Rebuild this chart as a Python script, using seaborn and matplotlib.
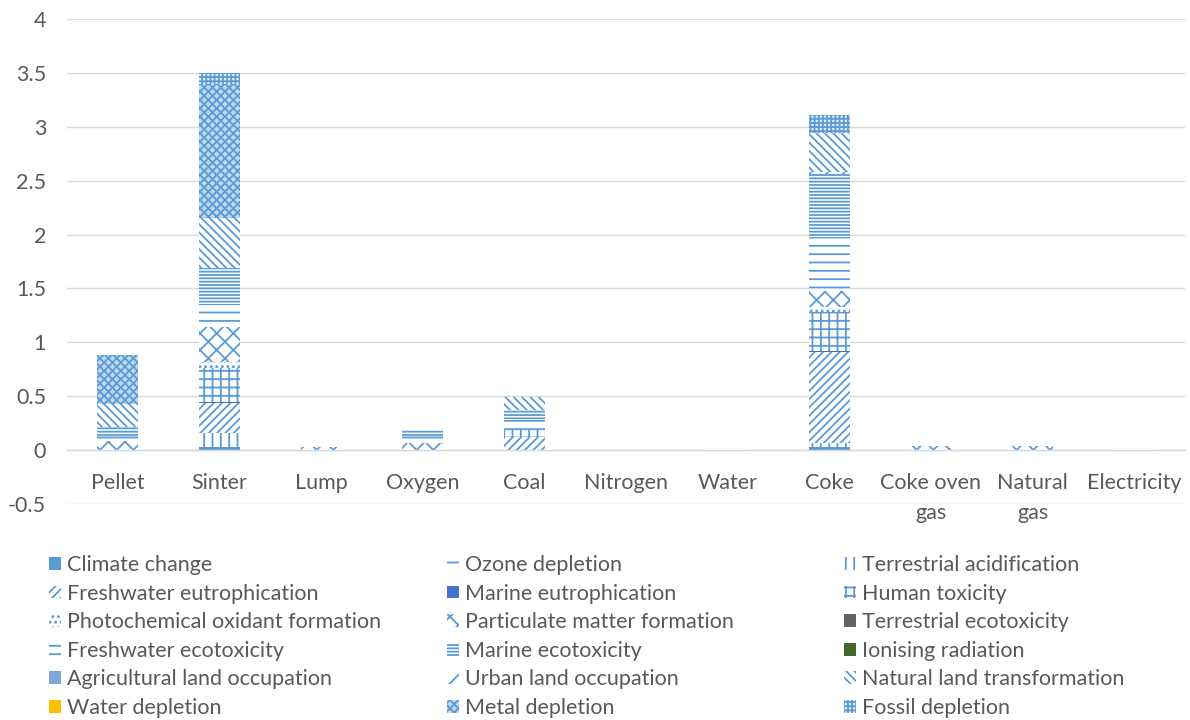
import matplotlib
matplotlib.use("Agg")
import matplotlib.pyplot as plt
from matplotlib.patches import Patch
import numpy as np
import pandas as pd
import seaborn as sns

# ---- data ---------------------------------------------------------------
categories = ["Pellet", "Sinter", "Lump", "Oxygen", "Coal", "Nitrogen", "Water",
              "Coke", "Coke oven\ngas", "Natural\ngas", "Electricity"]

climate_change              = [0.00, 0.030, 0.000, 0.00, 0.00, 0, 0.000, 0.03, 0.00, 0.000, 0.000]
ozone_depletion             = [0.00, 0.000, 0.000, 0.00, 0.00, 0, 0.000, 0.00, 0.00, 0.000, 0.000]
terrestrial_acidification   = [0.00, 0.130, 0.000, 0.00, 0.00, 0, 0.000, 0.04, 0.00, 0.000, 0.000]
freshwater_eutrophication   = [0.00, 0.275, 0.000, 0.00, 0.12, 0, 0.000, 0.84, 0.00, 0.000, 0.000]
marine_eutrophication       = [0.00, 0.015, 0.000, 0.00, 0.00, 0, 0.000, 0.01, 0.00, 0.000, 0.000]
human_toxicity              = [0.00, 0.310, 0.000, 0.00, 0.08, 0, 0.000, 0.36, 0.00, 0.000, 0.000]
photochemical_oxidant       = [0.00, 0.060, 0.000, 0.00, 0.00, 0, 0.000, 0.05, 0.00, 0.000, 0.000]
particulate_matter          = [0.08, 0.320, 0.025, 0.07, 0.00, 0, 0.000, 0.15, 0.04, 0.035, 0.000]
terrestrial_ecotoxicity     = [0.00, 0.000, 0.000, 0.00, 0.00, 0, 0.000, 0.00, 0.00, 0.000, 0.000]
freshwater_ecotoxicity      = [0.05, 0.220, 0.000, 0.06, 0.09, 0, 0.015, 0.50, 0.00, 0.000, 0.015]
marine_ecotoxicity          = [0.08, 0.330, 0.000, 0.06, 0.08, 0, 0.000, 0.58, 0.00, 0.000, 0.000]
ionising_radiation          = [0.00, 0.000, 0.000, 0.00, 0.00, 0, 0.000, 0.00, 0.00, 0.000, 0.000]
agricultural_land           = [0.00, 0.000, 0.000, 0.00, 0.00, 0, 0.000, 0.00, 0.00, 0.000, 0.000]
urban_land                  = [0.00, 0.000, 0.000, 0.00, 0.00, 0, 0.000, 0.02, 0.00, 0.000, 0.000]
natural_land_transformation = [0.22, 0.460, 0.000, 0.00, 0.12, 0, 0.000, 0.36, 0.00, 0.000, 0.000]
water_depletion             = [0.00, 0.000, 0.000, 0.00, 0.00, 0, 0.000, 0.00, 0.00, 0.000, 0.000]
metal_depletion             = [0.45, 1.250, 0.000, 0.00, 0.00, 0, 0.000, 0.00, 0.00, 0.000, 0.000]
fossil_depletion            = [0.00, 0.100, 0.000, 0.00, 0.00, 0, 0.000, 0.17, 0.00, 0.000, 0.000]

indicator_names = [
    "Climate change", "Ozone depletion", "Terrestrial acidification",
    "Freshwater eutrophication", "Marine eutrophication", "Human toxicity",
    "Photochemical oxidant formation", "Particulate matter formation", "Terrestrial ecotoxicity",
    "Freshwater ecotoxicity", "Marine ecotoxicity", "Ionising radiation",
    "Agricultural land occupation", "Urban land occupation", "Natural land transformation",
    "Water depletion", "Metal depletion", "Fossil depletion",
]
indicator_values = [
    climate_change, ozone_depletion, terrestrial_acidification,
    freshwater_eutrophication, marine_eutrophication, human_toxicity,
    photochemical_oxidant, particulate_matter, terrestrial_ecotoxicity,
    freshwater_ecotoxicity, marine_ecotoxicity, ionising_radiation,
    agricultural_land, urban_land, natural_land_transformation,
    water_depletion, metal_depletion, fossil_depletion,
]

# ---- styles: (face colour, hatch colour, hatch) -------------------------
BLUE = "#5B9BD5"
styles = {
    "Climate change":                  ("#5B9BD5", BLUE, None),
    "Ozone depletion":                 ("white", BLUE, "--"),
    "Terrestrial acidification":       ("white", BLUE, "||"),
    "Freshwater eutrophication":       ("white", BLUE, "////"),
    "Marine eutrophication":           ("#4472C4", "#4472C4", None),
    "Human toxicity":                  ("white", BLUE, "++"),
    "Photochemical oxidant formation": ("white", BLUE, "..."),
    "Particulate matter formation":    ("white", BLUE, "xx"),
    "Terrestrial ecotoxicity":         ("#636363", "#636363", None),
    "Freshwater ecotoxicity":          ("white", BLUE, "--"),
    "Marine ecotoxicity":              ("white", BLUE, "-----"),
    "Ionising radiation":              ("#43682B", "#43682B", None),
    "Agricultural land occupation":    ("#7EA6D8", "#7EA6D8", None),
    "Urban land occupation":           ("white", BLUE, "//"),
    "Natural land transformation":     ("white", BLUE, "\\\\\\\\"),
    "Water depletion":                 ("#FFC000", "#FFC000", None),
    "Metal depletion":                 ("#BDD7EE", BLUE, "xxxx"),
    "Fossil depletion":                ("#DEEBF7", BLUE, "++++"),
}

TEXT = "#595959"
GRID = "#D9D9D9"
FS = 15.5

sns.set_theme(style="white")
plt.rcParams["font.family"] = ["Lato", "DejaVu Sans"]
plt.rcParams["hatch.linewidth"] = 1.3

fig = plt.figure(figsize=(11.9, 7.2), dpi=100)
ax = fig.add_axes([67 / 1190, 1 - 504 / 720, (1185 - 67) / 1190, (504 - 19) / 720])

# ---- stacked bars -------------------------------------------------------
bottom = np.zeros(len(categories))
for name, vals in zip(indicator_names, indicator_values):
    vals = np.asarray(vals, dtype=float)
    face, hcol, hatch = styles[name]
    df = pd.DataFrame({"category": categories, "value": vals})
    sns.barplot(data=df, x="category", y="value", order=categories,
                width=0.4, color=face, saturation=1, errorbar=None,
                bottom=bottom, ax=ax, linewidth=0)
    for patch in ax.patches[-len(categories):]:
        patch.set_facecolor(face)
        patch.set_edgecolor(hcol)
        patch.set_linewidth(0)
        if hatch:
            patch.set_hatch(hatch)
    bottom = bottom + vals

# ---- axes ---------------------------------------------------------------
ax.set_xlim(-0.5, len(categories) - 0.5)
ax.set_ylim(-0.5, 4)
ax.set_yticks(np.arange(-0.5, 4.01, 0.5))
ax.set_yticklabels([f"{v:g}" for v in np.arange(-0.5, 4.01, 0.5)])
ax.yaxis.grid(True, color=GRID, linewidth=1)
ax.set_axisbelow(True)
ax.set_xlabel("")
ax.set_ylabel("")
for side in ("left", "right", "top"):
    ax.spines[side].set_visible(False)
ax.spines["bottom"].set_position(("data", 0))
ax.spines["bottom"].set_color(GRID)
ax.spines["bottom"].set_linewidth(1)
ax.tick_params(axis="both", length=0, colors=TEXT, labelsize=FS)
ax.tick_params(axis="y", pad=15)
ax.tick_params(axis="x", pad=16.5)
for lbl in ax.get_xticklabels():
    lbl.set_linespacing(1.6)

# ---- legend: three columns of six entries, filled row by row -----------
handles = []
for name in indicator_names:
    face, hcol, hatch = styles[name]
    handles.append(Patch(facecolor=face, edgecolor=hcol, hatch=hatch, linewidth=0, label=name))

col_x = [49, 447, 844]
for c in range(3):
    hs = handles[c::3]
    leg = fig.legend(handles=hs, loc="upper left",
                     bbox_to_anchor=(col_x[c] / 1190, 1 - 555 / 720),
                     frameon=False, fontsize=FS, handlelength=0.55, handleheight=0.55,
                     handletextpad=0.3, labelspacing=0.4, borderpad=0, borderaxespad=0)
    for t in leg.get_texts():
        t.set_color(TEXT)

fig.savefig("out.png", dpi=100, facecolor="white")
